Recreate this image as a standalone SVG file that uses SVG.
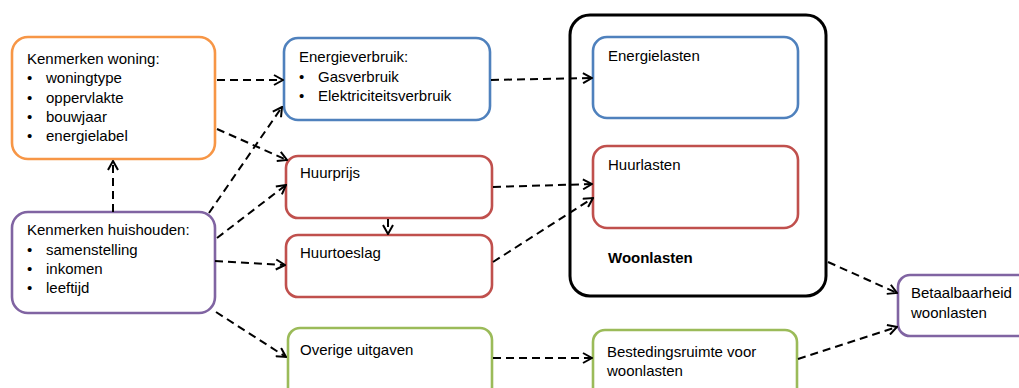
<svg xmlns="http://www.w3.org/2000/svg" width="1019" height="388" viewBox="0 0 1019 388">
<defs>
<style>
.t{font-family:"Liberation Sans",Arial,sans-serif;font-size:15px;fill:#000}
.b{font-weight:bold}
.n{fill:#fff;stroke-width:2.6}
.c{fill:none;stroke:#000;stroke-width:2;stroke-dasharray:8 5;marker-end:url(#ah)}
</style>
<marker id="ah" viewBox="0 0 12 12" refX="11" refY="6" markerWidth="12" markerHeight="12" markerUnits="userSpaceOnUse" orient="auto">
<path d="M2,1 L11,6 L2,11" fill="none" stroke="#000" stroke-width="2"/>
</marker>
</defs>
<rect width="1019" height="388" fill="#fff"/>
<g id="woonlasten">
<rect x="570" y="15" width="256" height="281" rx="20" fill="#fff" stroke="#000" stroke-width="3"/>
<text class="t b" x="608" y="263">Woonlasten</text>
</g>
<g id="kenmerken-woning">
<rect class="n" x="12" y="37" width="203" height="122" rx="16" stroke="#F79646"/>
<text class="t" x="27" y="64">Kenmerken woning:</text>
<text class="t" x="27" y="83">•</text><text class="t" x="46" y="83">woningtype</text>
<text class="t" x="27" y="103">•</text><text class="t" x="46" y="103">oppervlakte</text>
<text class="t" x="27" y="122">•</text><text class="t" x="46" y="122">bouwjaar</text>
<text class="t" x="27" y="141">•</text><text class="t" x="46" y="141">energielabel</text>
</g>
<g id="kenmerken-huishouden">
<rect class="n" x="12" y="212" width="203" height="101" rx="16" stroke="#8064A2"/>
<text class="t" x="27" y="235">Kenmerken huishouden:</text>
<text class="t" x="27" y="255">•</text><text class="t" x="46" y="255">samenstelling</text>
<text class="t" x="27" y="274">•</text><text class="t" x="46" y="274">inkomen</text>
<text class="t" x="27" y="293">•</text><text class="t" x="46" y="293">leeftijd</text>
</g>
<g id="energieverbruik">
<rect class="n" x="284" y="38" width="206" height="82" rx="14" stroke="#4F81BD"/>
<text class="t" x="299" y="62">Energieverbruik:</text>
<text class="t" x="299" y="82">•</text><text class="t" x="318" y="82">Gasverbruik</text>
<text class="t" x="299" y="101">•</text><text class="t" x="318" y="101">Elektriciteitsverbruik</text>
</g>
<g id="huurprijs">
<rect class="n" x="286" y="156" width="206" height="62" rx="12" stroke="#C0504D"/>
<text class="t" x="300" y="178">Huurprijs</text>
</g>
<g id="huurtoeslag">
<rect class="n" x="286" y="235" width="206" height="62" rx="12" stroke="#C0504D"/>
<text class="t" x="300" y="258">Huurtoeslag</text>
</g>
<g id="overige-uitgaven">
<rect class="n" x="288" y="328" width="204" height="76" rx="12" stroke="#9BBB59"/>
<text class="t" x="300" y="355">Overige uitgaven</text>
</g>
<g id="bestedingsruimte">
<rect class="n" x="593" y="330" width="204" height="76" rx="12" stroke="#9BBB59"/>
<text class="t" x="607" y="357">Bestedingsruimte voor</text>
<text class="t" x="607" y="376">woonlasten</text>
</g>
<g id="energielasten">
<rect class="n" x="593" y="37" width="205" height="81" rx="14" stroke="#4F81BD"/>
<text class="t" x="608" y="61">Energielasten</text>
</g>
<g id="huurlasten">
<rect class="n" x="593" y="146" width="205" height="82" rx="14" stroke="#C0504D"/>
<text class="t" x="608" y="170">Huurlasten</text>
</g>
<g id="betaalbaarheid">
<rect class="n" x="898" y="275" width="140" height="61" rx="12" stroke="#8064A2"/>
<text class="t" x="911" y="298">Betaalbaarheid</text>
<text class="t" x="911" y="318">woonlasten</text>
</g>
<g id="connectors">
<line class="c" x1="217" y1="80" x2="283" y2="80"/>
<line class="c" x1="217" y1="129" x2="287" y2="160"/>
<line class="c" x1="113" y1="212" x2="113" y2="161"/>
<line class="c" x1="209" y1="213" x2="282" y2="107"/>
<line class="c" x1="217" y1="238" x2="286" y2="185"/>
<line class="c" x1="215" y1="261" x2="285" y2="265"/>
<line class="c" x1="216" y1="312" x2="286" y2="357"/>
<line class="c" x1="388" y1="219" x2="388" y2="234" stroke-dasharray="none"/>
<line class="c" x1="491" y1="80" x2="592" y2="78"/>
<line class="c" x1="493" y1="187" x2="592" y2="184"/>
<line class="c" x1="493" y1="262" x2="593" y2="198"/>
<line class="c" x1="493" y1="358" x2="592" y2="358"/>
<line class="c" x1="828" y1="262" x2="897" y2="293"/>
<line class="c" x1="798" y1="359" x2="897" y2="327"/>
</g>
</svg>
